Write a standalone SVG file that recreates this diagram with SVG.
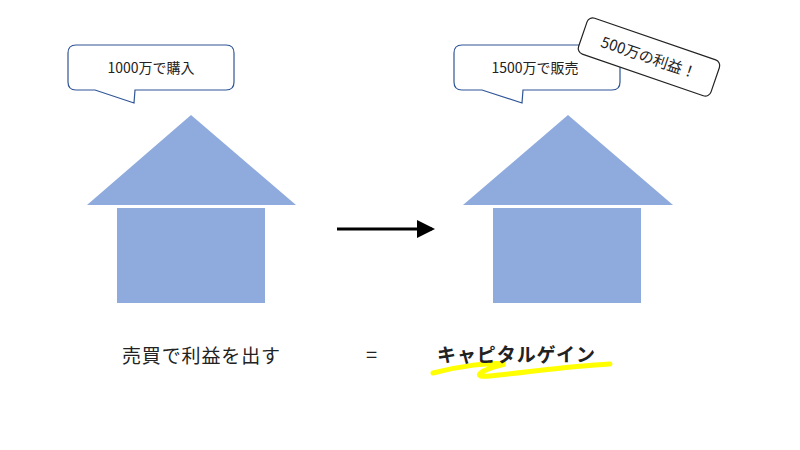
<svg xmlns="http://www.w3.org/2000/svg" width="800" height="450" viewBox="0 0 800 450">
<style>
.house{fill:#8faadc}
.bub{fill:#fff;stroke:#2f5597;stroke-width:1.2}
.t{font-family:"Noto Sans CJK JP","Liberation Sans",sans-serif;fill:#222}
</style>
<defs><marker id="ah" markerWidth="6" markerHeight="6" refX="5" refY="3" orient="auto" markerUnits="strokeWidth"><path d="M0,0L6,3L0,6z" fill="#000"/></marker></defs>
<rect width="800" height="450" fill="#fff"/>
<g id="house1"><polygon class="house" points="87,205 191,115 296,205"/><rect class="house" x="117" y="208" width="148" height="95"/></g>
<g id="house2"><polygon class="house" points="463,205 568,115 673,205"/><rect class="house" x="493" y="208" width="148" height="95"/></g>
<g id="bubble1"><path class="bub" d="M76,45H226Q234,45 234,53V82Q234,90 226,90H135L134,103L95,90H76Q68,90 68,82V53Q68,45 76,45Z"/><text class="t" x="151" y="73" font-size="14" text-anchor="middle">1000万で購入</text></g>
<g id="bubble2"><path class="bub" d="M462,45H612Q620,45 620,53V82Q620,90 612,90H523L522,103L482,90H462Q454,90 454,82V53Q454,45 462,45Z"/><text class="t" x="535" y="73" font-size="14" text-anchor="middle">1500万で販売</text></g>
<g id="profit" transform="translate(649,57) rotate(19)"><rect x="-70" y="-19" width="140" height="38" rx="6" fill="#fff" stroke="#222" stroke-width="1.2"/><text class="t" x="0" y="6" font-size="15" text-anchor="middle">500万の利益！</text></g>
<g id="connectors"><line x1="337" y1="229" x2="432" y2="229" stroke="#000" stroke-width="3" marker-end="url(#ah)"/></g>
<g id="labels">
<text class="t" x="122" y="363" font-size="19" textLength="158" lengthAdjust="spacing">売買で利益を出す</text>
<text class="t" x="366" y="362" font-size="20">=</text>
<path d="M433,373 C460,366 490,362 505,364 C480,370 470,378 490,376 C530,372 570,366 610,364" fill="none" stroke="#ffff00" stroke-width="5" stroke-linecap="round"/>
<text class="t" x="437" y="362" font-size="19" font-weight="bold" fill="#000" textLength="158" lengthAdjust="spacing">キャピタルゲイン</text>
</g>
</svg>
